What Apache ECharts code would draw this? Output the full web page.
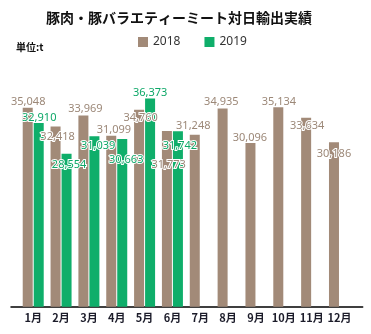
<!DOCTYPE html>
<html><head><meta charset="utf-8">
<script src="https://cdn.jsdelivr.net/npm/echarts@6/dist/echarts.min.js"></script>
<style>html,body{margin:0;padding:0;background:#fff}#c{width:371px;height:334px}</style>
</head><body><div id="c"></div>
<script>
const months = ['1月','2月','3月','4月','5月','6月','7月','8月','9月','10月','11月','12月'];
const seriesNames = ['2018','2019'];
const values2018 = [35048, 32418, 33969, 31099, 34760, 31773, 31248, 34935, 30096, 35134, 33634, 30186];
const values2019 = [32910, 28554, 31039, 30663, 36373, 31742];

// label placement tweaks (style only): [dx, dy] relative to the bar top
const shift2018 = [[0.5,0],[2,15.6],[2,-0.7],[2.7,-0.7],[1.5,13.6],[1.7,39],[-1.5,-3.7],[-1.3,-1.3],[-0.5,0.3],[0.6,0.3],[1,13.7],[0,16.7]];
const shift2019 = [[0.5,0],[2.5,17],[3.7,15.4],[4,26.7],[0,0],[2,20]];

const BROWN = '#A28A78', GREEN = '#0FAE6A';
const fmt = v => v.toLocaleString('en-US');
function items(vals, shifts) {
  return vals.map((v, i) => ({ value: v, label: { offset: shifts[i] } }));
}
const labelBase = (color) => ({
  show: true, position: 'top', distance: 0,
  formatter: p => fmt(p.value),
  fontFamily: 'Noto Sans', fontSize: 11, color: color,
  textBorderColor: '#fff', textBorderWidth: 2
});

const chart = echarts.init(document.getElementById('c'), null, { renderer: 'canvas' });
chart.setOption({
  animation: false,
  title: [
    { text: '豚肉・豚バラエティーミート対日輸出実績', left: 41, top: 6,
      textStyle: { fontFamily: 'Noto Sans CJK JP', fontSize: 14, fontWeight: 'bold', color: '#111' } },
    { text: '単位:t', left: 11, top: 37,
      textStyle: { fontFamily: 'Noto Sans CJK JP', fontSize: 10, fontWeight: 'bold', color: '#111' } }
  ],
  legend: {
    data: seriesNames, left: 133, top: 31, itemWidth: 10, itemHeight: 10, itemGap: 24,
    icon: 'rect',
    textStyle: { fontFamily: 'Noto Sans', fontSize: 12, color: '#333' }
  },
  grid: [
    { left: 19.3, right: 17.6, top: 58.5, bottom: 27.3 },
    { left: 11, right: 8.3, top: 58.5, bottom: 27.3 }
  ],
  xAxis: [
    { type: 'category', data: months, gridIndex: 0,
      axisLine: { show: false }, axisTick: { show: false },
      axisLabel: { margin: 6, fontFamily: 'Noto Sans CJK JP', fontSize: 11, fontWeight: 'bold', color: '#1c1c2a', interval: 0 } },
    { type: 'category', data: [''], gridIndex: 1,
      axisLine: { show: true, lineStyle: { color: '#000', width: 1.5 } },
      axisTick: { show: false }, axisLabel: { show: false } }
  ],
  yAxis: [
    { type: 'value', min: 7000, max: 42000, gridIndex: 0, show: false, splitLine: { show: false } },
    { type: 'value', gridIndex: 1, show: false, splitLine: { show: false } }
  ],
  series: [
    { name: seriesNames[0], type: 'bar', data: items(values2018, shift2018),
      barWidth: 10, barGap: '10%', itemStyle: { color: BROWN }, label: labelBase('#9C8878') },
    { name: seriesNames[1], type: 'bar', data: items(values2019, shift2019),
      barWidth: 10, barGap: '10%', itemStyle: { color: GREEN }, label: labelBase('#0EA868') }
  ]
});
</script></body></html>
